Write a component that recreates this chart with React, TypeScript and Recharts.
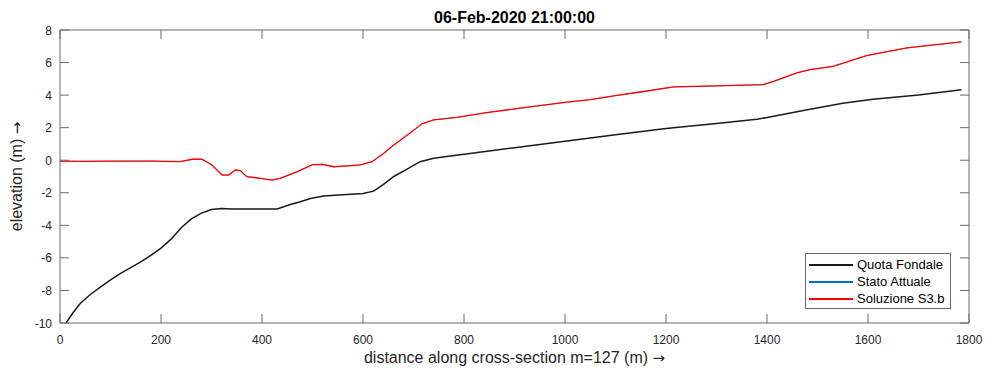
import {
  LineChart, Line, XAxis, YAxis, Legend, ReferenceArea, Label,
} from "recharts";

// ─── Data ────────────────────────────────────────────────────────────────────

const bedX = [12, 25, 40, 60, 80, 100, 120, 140, 160, 180, 200, 220, 240, 260, 280, 300, 320, 340, 380, 430, 456, 476, 496, 522, 560, 600, 621, 640, 661, 690, 713, 740, 800, 900, 1000, 1100, 1200, 1300, 1380, 1400, 1480, 1550, 1610, 1700, 1785];
const bedY = [-10, -9.4, -8.8, -8.25, -7.8, -7.35, -6.95, -6.6, -6.25, -5.85, -5.4, -4.85, -4.15, -3.6, -3.25, -3.03, -2.96, -3.0, -3.0, -3.0, -2.72, -2.55, -2.35, -2.2, -2.12, -2.05, -1.9, -1.5, -1.0, -0.5, -0.09, 0.12, 0.37, 0.77, 1.17, 1.57, 1.95, 2.25, 2.52, 2.62, 3.1, 3.5, 3.75, 4.0, 4.33];

const solX = [0, 50, 100, 150, 180, 210, 238, 262, 281, 301, 321, 334, 347, 357, 370, 397, 420, 436, 469, 500, 520, 542, 570, 595, 618, 640, 661, 690, 717, 740, 786, 845, 900, 1000, 1050, 1100, 1149, 1215, 1300, 1393, 1413, 1459, 1485, 1531, 1597, 1677, 1785];
const solY = [-0.06, -0.07, -0.06, -0.05, -0.05, -0.07, -0.09, 0.06, 0.06, -0.29, -0.91, -0.91, -0.6, -0.64, -1.01, -1.11, -1.22, -1.11, -0.71, -0.27, -0.25, -0.4, -0.35, -0.29, -0.09, 0.4, 0.94, 1.6, 2.24, 2.48, 2.63, 2.93, 3.15, 3.55, 3.72, 3.97, 4.19, 4.5, 4.57, 4.64, 4.84, 5.36, 5.56, 5.77, 6.43, 6.9, 7.27];

// "Stato Attuale" coincides with the solution and sits under it
const actX = solX;
const actY = solY;

const xTicks = [0, 200, 400, 600, 800, 1000, 1200, 1400, 1600, 1800];
const yTicks = [-10, -8, -6, -4, -2, 0, 2, 4, 6, 8];

const SERIES = [
  { name: "Quota Fondale", color: "#1a1a1a", width: 1.5, xs: bedX, ys: bedY },
  { name: "Stato Attuale", color: "#0072bd", width: 0.6, xs: actX, ys: actY },
  { name: "Soluzione S3.b", color: "#ff0000", width: 1.3, xs: solX, ys: solY },
];

// ─── Layout ──────────────────────────────────────────────────────────────────

const FONT = '"Liberation Sans", Arial, Helvetica, sans-serif';
const ARROW_FONT = '"DejaVu Sans", sans-serif';
const AX = "#262626";
const BOX = "#6a6a6a";
const W = 990, H = 369;
const LEFT = 60, RIGHT = 969, TOP = 30, BOTTOM = 323;
const TICK = 9;

function XTick({ x, payload }: any) {
  return (
    <g>
      <line x1={x} x2={x} y1={BOTTOM} y2={BOTTOM - TICK} stroke={BOX} />
      <line x1={x} x2={x} y1={TOP} y2={TOP + TICK} stroke={BOX} />
      <text x={x} y={344} textAnchor="middle" fontSize={12} fill={AX} fontFamily={FONT}>{payload.value}</text>
    </g>
  );
}

function YTick({ y, payload }: any) {
  return (
    <g>
      <line x1={LEFT} x2={LEFT + TICK} y1={y} y2={y} stroke={BOX} />
      <line x1={RIGHT} x2={RIGHT - TICK} y1={y} y2={y} stroke={BOX} />
      <text x={52} y={y + 4.5} textAnchor="end" fontSize={12} fill={AX} fontFamily={FONT}>{payload.value}</text>
    </g>
  );
}

function LegendBox() {
  return (
    <div style={{ width: 144, height: 52, border: `1px solid ${BOX}`, background: "#fff", padding: "2px 0 0 0", boxSizing: "content-box" }}>
      {SERIES.map((s) => (
        <div key={s.name} style={{ display: "flex", alignItems: "center", height: 17 }}>
          <div style={{ width: 44, height: 2, background: s.color, marginLeft: 3, marginRight: 4, flexShrink: 0 }} />
          <span style={{ fontSize: 13, color: "#000", fontFamily: FONT, lineHeight: "17px" }}>{s.name}</span>
        </div>
      ))}
    </div>
  );
}

export default function App() {
  return (
    <div style={{ position: "absolute", left: 0, top: 0, width: W, height: H, background: "#fff", fontFamily: FONT }}>
      <div style={{ position: "absolute", left: LEFT, width: RIGHT - LEFT, top: 8, textAlign: "center", fontWeight: "bold", fontSize: 16, color: "#000", lineHeight: "20px" }}>
        06-Feb-2020 21:00:00
      </div>
      <LineChart width={W} height={H} margin={{ top: TOP, right: W - RIGHT, bottom: 0, left: 0 }}>
        <XAxis
          dataKey="x" type="number" domain={[0, 1800]} ticks={xTicks} allowDataOverflow
          height={H - BOTTOM} tickSize={0} tickMargin={0} tickLine={false}
          axisLine={false} tick={<XTick />} interval={0}
        >
          <Label
            content={() => (
              <text x={(LEFT + RIGHT) / 2} y={363} textAnchor="middle" fontSize={16} fill={AX} fontFamily={FONT}>
                distance along cross-section m=127 (m) <tspan fontFamily={ARROW_FONT} fontSize={15}>→</tspan>
              </text>
            )}
          />
        </XAxis>
        <YAxis
          type="number" domain={[-10, 8]} ticks={yTicks} allowDataOverflow width={LEFT}
          tickSize={0} tickMargin={0} tickLine={false} axisLine={false} tick={<YTick />} interval={0}
        >
          <Label
            content={() => (
              <text x={0} y={0} transform={`translate(22, ${(TOP + BOTTOM) / 2}) rotate(-90)`} textAnchor="middle" fontSize={16} fill={AX} fontFamily={FONT}>
                elevation (m) <tspan fontFamily={ARROW_FONT} fontSize={15}>→</tspan>
              </text>
            )}
          />
        </YAxis>
        <ReferenceArea x1={0} x2={1800} y1={-10} y2={8} fill="none" fillOpacity={0} stroke={BOX} strokeWidth={1} ifOverflow="visible" />
        {SERIES.map((s) => (
          <Line
            key={s.name}
            name={s.name}
            data={s.xs.map((x, i) => ({ x, y: s.ys[i] }))}
            dataKey="y"
            type="linear"
            stroke={s.color}
            strokeWidth={s.width}
            dot={false}
            activeDot={false}
            isAnimationActive={false}
          />
        ))}
        <Legend
          layout="vertical" align="center" verticalAlign="middle"
          content={() => <LegendBox />}
          wrapperStyle={{ position: "absolute", left: 805, top: 253, width: "auto", height: "auto" }}
        />
      </LineChart>
    </div>
  );
}
